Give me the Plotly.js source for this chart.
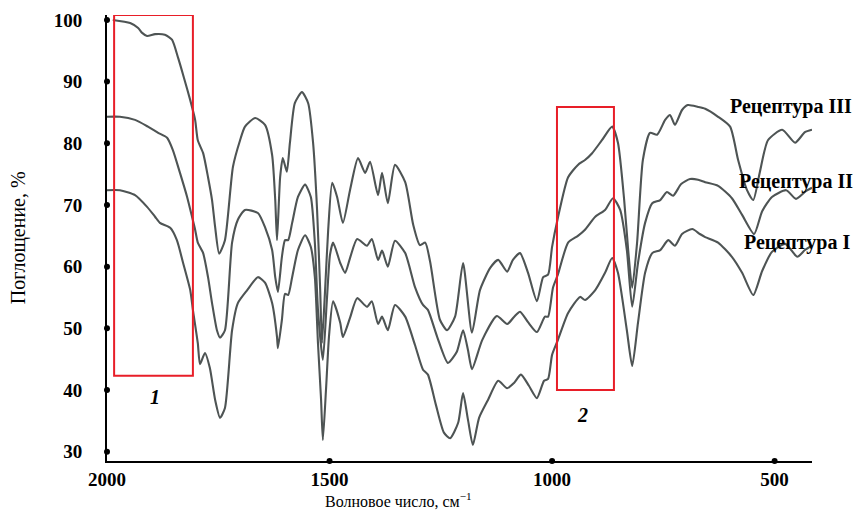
<!DOCTYPE html>
<html>
<head>
<meta charset="utf-8">
<script src="https://cdn.plot.ly/plotly-3.0.1.min.js"></script>
<style>html,body{margin:0;padding:0;background:#fff}#chart{width:854px;height:511px}</style>
</head>
<body>
<div id="chart"></div>
<script>
// Wavenumber (cm^-1) and absorption (%)
const wn3 = [1987,1948,1930,1921,1910,1892,1870,1854,1840,1827,1813,1802,1796,1784,1773,1764,1757,1748,1735,1717,1701,1690,1667,1645,1629,1622,1618,1611,1605,1596,1589,1578,1562,1548,1537,1528,1521,1517,1510,1503,1494,1483,1470,1454,1436,1420,1409,1391,1382,1369,1353,1330,1312,1297,1285,1274,1252,1236,1218,1200,1180,1162,1139,1121,1101,1088,1072,1054,1034,1020,1009,1000,987,964,942,926,910,888,865,852,838,829,820,809,796,780,764,746,735,724,708,695,672,656,627,600,582,562,548,533,515,483,454,432,416];
const ab3 = [100,99.5,98.7,97.9,97.4,97.7,97.6,96.8,93.8,90.6,87.0,83.8,80.5,78.4,74.5,70.8,66.4,62.1,64.3,76.2,80.5,82.7,84.1,83.0,78.1,70.8,64.3,74.5,77.6,75.4,80.1,86.5,88.3,86.5,80.1,69.2,56.2,47.6,56.2,66.0,73.6,71.3,67.1,72.4,77.6,75.2,77.0,71.6,75.2,70.3,76.5,73.7,66.8,63.5,63.9,60.8,51.4,49.7,51.9,60.6,49.3,56.2,59.8,61.1,59.2,61.1,62.2,59.0,54.4,58.3,58.7,63.2,67.9,74.5,76.5,77.3,78.4,80.5,82.7,80.1,70.8,62.7,56.6,63.9,77.3,81.7,81.4,83.8,84.6,83.0,85.4,86.2,85.9,85.6,84.3,82.7,77.3,72.4,70.8,75.4,80.5,82.2,80.1,81.8,82.2];

const wn2 = [2000,1971,1937,1908,1885,1865,1852,1836,1820,1809,1802,1796,1784,1773,1764,1753,1746,1735,1719,1706,1690,1661,1645,1629,1622,1616,1607,1600,1593,1584,1571,1555,1542,1533,1526,1515,1506,1499,1492,1476,1465,1454,1438,1416,1405,1391,1382,1369,1353,1330,1308,1290,1279,1258,1234,1214,1200,1189,1180,1157,1124,1101,1085,1072,1054,1034,1016,1009,998,987,964,942,926,903,881,863,847,832,820,807,791,775,757,742,728,710,690,672,656,627,596,573,546,528,506,474,452,429,416];
const ab2 = [84.3,84.3,83.8,82.7,81.7,80.9,78.9,75.2,71.3,68.1,66.0,63.9,62.2,58.3,54.1,49.7,48.5,49.7,63.9,67.6,69.2,68.7,66.4,62.7,58.3,55.9,61.6,64.3,64.3,67.1,71.3,73.3,71.3,63.9,53.0,44.9,54.6,61.9,63.9,60.6,59.0,61.4,64.5,63.4,64.5,61.1,62.6,60.0,64.2,62.2,56.7,53.8,53.0,48.6,44.4,46.2,49.7,46.5,43.4,48.1,52.0,50.7,51.9,52.7,51.0,49.4,51.9,51.9,56.6,58.7,63.9,65.0,66.0,68.1,69.2,71.1,69.2,62.7,53.5,60.6,67.1,70.3,70.8,72.1,71.5,73.4,74.2,74.1,73.7,73.1,71.1,68.4,65.3,69.0,71.3,72.4,71.0,72.3,72.8];

const wn1 = [2000,1971,1937,1910,1892,1881,1858,1843,1829,1813,1807,1796,1791,1780,1769,1757,1746,1735,1719,1706,1685,1661,1645,1629,1618,1616,1607,1600,1593,1584,1571,1555,1542,1533,1526,1519,1515,1508,1501,1492,1476,1470,1454,1438,1416,1405,1391,1382,1369,1353,1330,1308,1290,1279,1261,1243,1229,1211,1200,1189,1178,1164,1144,1121,1101,1085,1070,1052,1034,1018,1009,1000,987,964,937,926,903,881,865,852,832,820,807,791,775,757,739,724,708,685,668,656,627,596,573,548,528,506,476,449,432,416];
const ab1 = [72.4,72.4,71.6,69.7,68.1,67.1,66.3,64.3,60.6,56.2,53.0,47.6,44.2,46.0,43.6,38.4,35.5,37.1,49.7,54.1,56.2,58.3,57.4,54.1,48.6,46.8,51.4,55.6,55.4,58.3,62.7,65.1,63.2,58.3,47.6,38.4,31.9,40.0,48.9,54.4,50.9,48.6,51.7,54.9,53.5,54.4,50.7,51.9,49.7,53.8,51.9,47.3,43.3,42.5,37.6,33.1,32.2,34.7,39.5,35.2,31.1,35.5,38.4,41.5,40.3,41.2,42.5,40.7,38.7,41.5,41.8,45.7,48.1,52.5,55.1,54.6,56.2,59.0,61.4,59.0,49.7,43.9,50.9,59.0,62.2,62.7,64.3,63.4,65.3,66.1,65.3,64.8,63.9,61.6,59.0,55.4,59.3,62.4,63.7,61.6,62.7,63.4];

const seriesNames = ['Рецептура I', 'Рецептура II', 'Рецептура III'];
const xTicks = [2000, 1500, 1000, 500];
const yTicks = [30, 40, 50, 60, 70, 80, 90, 100];

const serif = 'Liberation Serif, Times New Roman, serif';
const lineStyle = {color: 'rgb(78,84,84)', width: 2.1, shape: 'spline', smoothing: 0.6};

const traces = [
  {x: wn1, y: ab1, name: seriesNames[0], mode: 'lines', line: lineStyle, hoverinfo: 'skip'},
  {x: wn2, y: ab2, name: seriesNames[1], mode: 'lines', line: lineStyle, hoverinfo: 'skip'},
  {x: wn3, y: ab3, name: seriesNames[2], mode: 'lines', line: lineStyle, hoverinfo: 'skip'},
  {x: yTicks.map(() => 2000), y: yTicks, mode: 'markers', marker: {color: '#000', size: 6}, cliponaxis: false, hoverinfo: 'skip'},
  {x: xTicks.slice(1), y: xTicks.slice(1).map(() => 28.5), mode: 'markers', marker: {color: '#000', size: 6}, cliponaxis: false, hoverinfo: 'skip'}
];

const layout = {
  width: 854, height: 511,
  margin: {l: 107, r: 42, t: 15, b: 50},
  paper_bgcolor: '#fff', plot_bgcolor: '#fff',
  showlegend: false,
  xaxis: {
    range: [2000, 416], tickvals: xTicks, ticks: '', showgrid: false, zeroline: false,
    showline: true, linecolor: '#000', linewidth: 2,
    tickfont: {family: serif, size: 19, color: '#000', weight: 'bold'},
    ticklabelstandoff: 0
  },
  yaxis: {
    range: [28.5, 100.8], tickvals: yTicks, ticks: '', showgrid: false, zeroline: false,
    showline: true, linecolor: '#000', linewidth: 2,
    tickfont: {family: serif, size: 19, color: '#000', weight: 'bold'},
    ticklabelstandoff: 19
  },
  shapes: [
    {type: 'rect', xref: 'x', yref: 'y', x0: 1984, x1: 1807, y0: 42.3, y1: 100.8, line: {color: 'rgb(232,30,40)', width: 2}},
    {type: 'rect', xref: 'x', yref: 'y', x0: 989, x1: 861, y0: 40.0, y1: 85.9, line: {color: 'rgb(232,30,40)', width: 2}}
  ],
  annotations: [
    {text: 'Поглощение, %', xref: 'paper', yref: 'paper', x: -0.126, y: 0.5, xanchor: 'center', yanchor: 'middle',
     textangle: -90, showarrow: false, font: {family: serif, size: 20, color: '#000'}},
    {text: 'Волновое число, см<sup>−1</sup>', xref: 'paper', yref: 'paper', x: 0.413, y: -0.088, xanchor: 'center', yanchor: 'middle',
     showarrow: false, font: {family: serif, size: 16, color: '#000'}},
    {text: seriesNames[2], xref: 'paper', yref: 'paper', x: 0.881, y: 0.794, xanchor: 'left', yanchor: 'middle', showarrow: false,
     font: {family: serif, size: 20, color: '#000', weight: 'bold'}},
    {text: seriesNames[1], xref: 'paper', yref: 'paper', x: 0.894, y: 0.626, xanchor: 'left', yanchor: 'middle', showarrow: false,
     font: {family: serif, size: 20, color: '#000', weight: 'bold'}},
    {text: seriesNames[0], xref: 'paper', yref: 'paper', x: 0.901, y: 0.489, xanchor: 'left', yanchor: 'middle', showarrow: false,
     font: {family: serif, size: 20, color: '#000', weight: 'bold'}},
    {text: '1', xref: 'paper', yref: 'paper', x: 0.068, y: 0.1435, xanchor: 'center', yanchor: 'middle', showarrow: false,
     font: {family: serif, size: 20, color: '#000', weight: 'bold', style: 'italic'}},
    {text: '2', xref: 'paper', yref: 'paper', x: 0.675, y: 0.103, xanchor: 'center', yanchor: 'middle', showarrow: false,
     font: {family: serif, size: 20, color: '#000', weight: 'bold', style: 'italic'}}
  ]
};

Plotly.newPlot('chart', traces, layout, {staticPlot: true, displayModeBar: false});
</script>
</body>
</html>
